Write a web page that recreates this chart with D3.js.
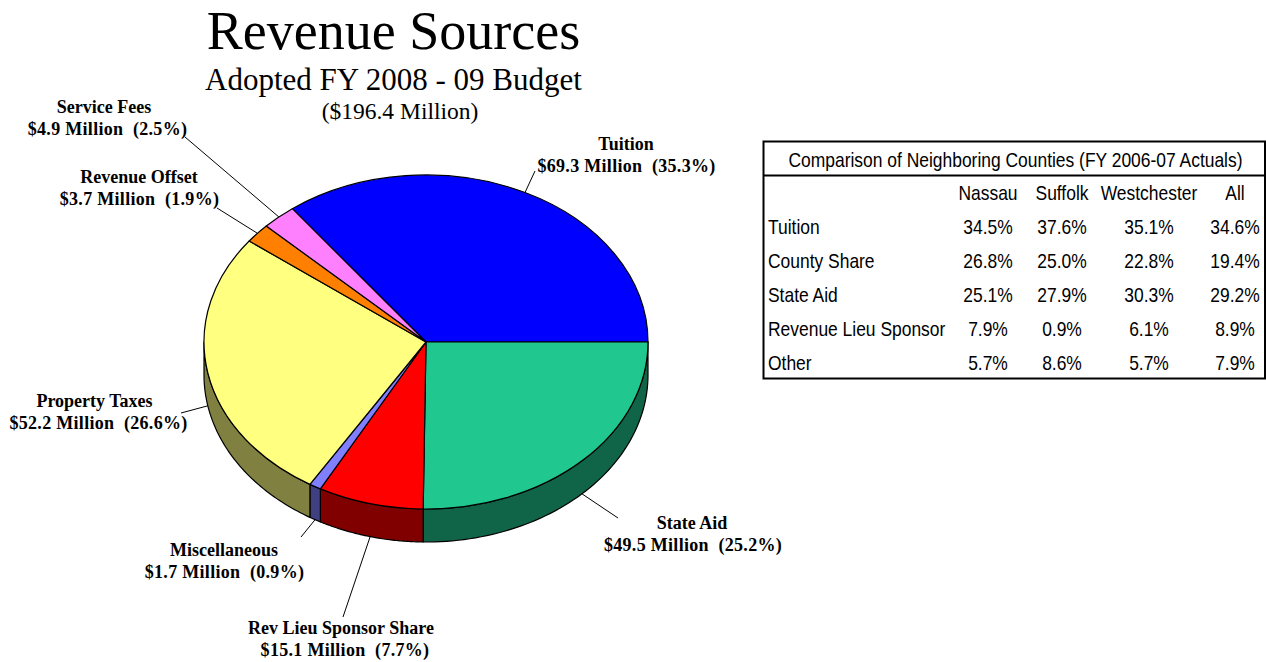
<!DOCTYPE html>
<html>
<head>
<meta charset="utf-8">
<script src="https://cdn.jsdelivr.net/npm/d3@7/dist/d3.min.js"></script>
<style>
  html, body { margin: 0; padding: 0; background: #fff; }
  svg { display: block; }
  text { white-space: pre; }
  .serif { font-family: "Liberation Serif", serif; fill: #000; }
  .callout { font-size: 18px; font-weight: bold; text-anchor: middle; }
  .callout .amount { letter-spacing: 0.3px; }
  .cell { font-family: "Liberation Sans", sans-serif; font-size: 20px; fill: #000; }
</style>
</head>
<body>
<svg id="chart" width="1266" height="662"></svg>
<script>
// Revenue sources, in $ million, clockwise from the Tuition slice
const sources = ["Tuition", "State Aid", "Rev Lieu Sponsor Share", "Miscellaneous", "Property Taxes", "Revenue Offset", "Service Fees"];
const amounts = [69.3, 49.5, 15.1, 1.7, 52.2, 3.7, 4.9];
const shares = ["35.3%", "25.2%", "7.7%", "0.9%", "26.6%", "1.9%", "2.5%"];
const topColors = ["#0000ff", "#20c890", "#ff0000", "#8080ff", "#ffff80", "#ff8000", "#ff80ff"];
const sideColors = ["#000080", "#106448", "#800000", "#404080", "#808040", "#804000", "#804080"];

// Where each callout sits: centre x, first baseline, second-line centre x, leader end
const calloutLayout = [
  { x: 626, y: 150, x2: 626.5, end: [535, 171] },
  { x: 692, y: 529, x2: 693, end: [618, 518] },
  { x: 341, y: 634, x2: 345, end: [343, 617] },
  { x: 224, y: 556, x2: 224.5, end: [301, 537] },
  { x: 94.5, y: 407, x2: 98.5, end: [181, 413] },
  { x: 139, y: 183, x2: 139.5, end: [217, 208] },
  { x: 104, y: 113, x2: 107.5, end: [185, 137] }
];

// Comparison table contents
const tableTitle = "Comparison of Neighboring Counties (FY 2006-07 Actuals)";
const counties = ["Nassau", "Suffolk", "Westchester", "All"];
const countyCentres = [988, 1062, 1149, 1235];
const rowNames = ["Tuition", "County Share", "State Aid", "Revenue Lieu Sponsor", "Other"];
const rowValues = [
  ["34.5%", "37.6%", "35.1%", "34.6%"],
  ["26.8%", "25.0%", "22.8%", "19.4%"],
  ["25.1%", "27.9%", "30.3%", "29.2%"],
  ["7.9%", "0.9%", "6.1%", "8.9%"],
  ["5.7%", "8.6%", "5.7%", "7.9%"]
];

const svg = d3.select("#chart");

// Headings
const heading = svg.append("g").attr("class", "serif").attr("text-anchor", "middle");
heading.append("text").attr("x", 393.5).attr("y", 49).attr("font-size", 54).text("Revenue Sources");
heading.append("text").attr("x", 393.5).attr("y", 90).attr("font-size", 31).text("Adopted FY 2008 - 09 Budget");
heading.append("text").attr("x", 400).attr("y", 119).attr("font-size", 23.5).text("($196.4 Million)");

// Pie geometry: an ellipse seen from above, with a wall below its front edge
const cx = 426, cy = 342, rx = 222, ry = 167, depth = 33;
const total = d3.sum(amounts);
// The Tuition slice ends at three o'clock
const startAngle = Math.PI / 2 - (amounts[0] / total) * 2 * Math.PI;
const pie = d3.pie().sort(null).startAngle(startAngle).endAngle(startAngle + 2 * Math.PI);
const arcs = pie(amounts);
const arcGen = d3.arc().innerRadius(0).outerRadius(rx);
const edge = t => [cx + rx * Math.sin(t), cy - ry * Math.cos(t)];

// Outer wall, only for the part of each slice on the front half of the ellipse
function wallPath(a) {
  const t0 = Math.max(a.startAngle, Math.PI / 2);
  const t1 = Math.min(a.endAngle, 3 * Math.PI / 2);
  if (t1 <= t0) return null;
  const ts = d3.range(0, 61).map(i => t0 + (t1 - t0) * i / 60);
  const upper = ts.map(edge);
  const lower = ts.slice().reverse().map(t => { const p = edge(t); return [p[0], p[1] + depth]; });
  return d3.line()(upper.concat(lower)) + "Z";
}

const walls = svg.append("g").attr("stroke", "#000").attr("stroke-width", 1.2).attr("stroke-linejoin", "round");
arcs.forEach((a, i) => {
  const d = wallPath(a);
  if (d) walls.append("path").attr("d", d).attr("fill", sideColors[i]);
});

const tops = svg.append("g").attr("transform", `translate(${cx},${cy}) scale(1,${ry / rx})`);
tops.selectAll("path").data(arcs).join("path")
  .attr("d", arcGen)
  .attr("fill", (d, i) => topColors[i])
  .attr("stroke", "#000")
  .attr("stroke-width", 1.2)
  .attr("stroke-linejoin", "round")
  .attr("vector-effect", "non-scaling-stroke");

// Leader lines run from the mid-angle of each slice to its callout
const leaders = svg.append("g").attr("stroke", "#000").attr("stroke-width", 1);
arcs.forEach((a, i) => {
  const mid = (a.startAngle + a.endAngle) / 2;
  const p = edge(mid);
  const onWall = Math.cos(mid) < 0 ? depth : 0;
  const end = calloutLayout[i].end;
  leaders.append("line")
    .attr("x1", p[0]).attr("y1", p[1] + onWall)
    .attr("x2", end[0]).attr("y2", end[1]);
});

// Two-line callouts
const callouts = svg.append("g").attr("class", "serif callout");
sources.forEach((name, i) => {
  const pos = calloutLayout[i];
  callouts.append("text").attr("x", pos.x).attr("y", pos.y).text(name);
  callouts.append("text").attr("class", "amount").attr("x", pos.x2).attr("y", pos.y + 22)
    .text(`$${amounts[i].toFixed(1)} Million  (${shares[i]})`);
});

// Comparison table
const tableLeft = 763.5, tableRight = 1265, tableTop = 141.5, headerBottom = 175.5, tableBottom = 378.5;
const table = svg.append("g");
table.append("rect")
  .attr("x", tableLeft).attr("y", tableTop)
  .attr("width", tableRight - tableLeft).attr("height", tableBottom - tableTop)
  .attr("fill", "none").attr("stroke", "#000").attr("stroke-width", 2);
table.append("line")
  .attr("x1", tableLeft).attr("x2", tableRight)
  .attr("y1", headerBottom).attr("y2", headerBottom)
  .attr("stroke", "#000").attr("stroke-width", 2);

const rowY = d3.scalePoint().domain(rowNames).range([234, 370]);
const squeeze = 0.872;

function cell(x, y, label, anchor) {
  table.append("text").attr("class", "cell")
    .attr("transform", `translate(${x},${y}) scale(${squeeze},1)`)
    .attr("text-anchor", anchor).text(label);
}
cell(1015.5, 167, tableTitle, "middle");
counties.forEach((c, k) => cell(countyCentres[k], 200, c, "middle"));
rowNames.forEach((name, r) => {
  cell(768, rowY(name), name, "start");
  counties.forEach((c, k) => cell(countyCentres[k], rowY(name), rowValues[r][k], "middle"));
});
</script>
</body>
</html>
